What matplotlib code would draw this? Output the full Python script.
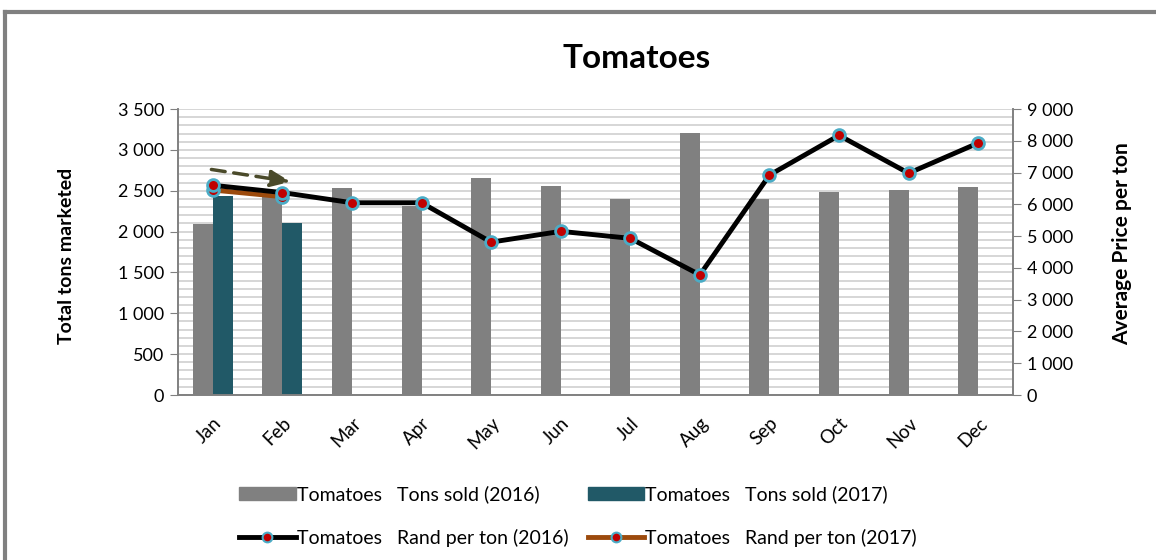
import matplotlib
matplotlib.use("Agg")
import matplotlib.pyplot as plt
from matplotlib.lines import Line2D
from matplotlib.ticker import FuncFormatter, MultipleLocator
import numpy as np

months = ["Jan", "Feb", "Mar", "Apr", "May", "Jun", "Jul", "Aug", "Sep", "Oct", "Nov", "Dec"]
tons_2016 = [2090, 2420, 2530, 2310, 2650, 2560, 2400, 3210, 2400, 2480, 2510, 2540]
tons_2017 = [2440, 2110]
rand_2016 = [6600, 6370, 6050, 6050, 4810, 5150, 4930, 3780, 6920, 8170, 6980, 7930]
rand_2017 = [6450, 6240]

lab_t16 = "Tomatoes   Tons sold (2016)"
lab_t17 = "Tomatoes   Tons sold (2017)"
lab_r16 = "Tomatoes   Rand per ton (2016)"
lab_r17 = "Tomatoes   Rand per ton (2017)"

plt.rcParams['font.family'] = ['Lato', 'DejaVu Sans']

W, H = 1156, 560
fig = plt.figure(figsize=(W/100, H/100), dpi=100)
ax = fig.add_axes([178/W, 1-395/H, (1013-178)/W, (395-109)/H])
ax2 = ax.twinx()

x = np.arange(len(months))
bw = 0.287
ax.bar(x - bw/2, tons_2016, width=bw, color="#808080", zorder=2)
ax.bar(x[:len(tons_2017)] + bw/2, tons_2017, width=bw, color="#215967", zorder=2)

ax.set_xlim(-0.5, 11.5)
ax.set_ylim(0, 3500)
ax.yaxis.set_major_locator(MultipleLocator(500))
ax.yaxis.set_minor_locator(MultipleLocator(100))
fmt = FuncFormatter(lambda v, p: f"{int(v):,}".replace(",", " "))
ax.yaxis.set_major_formatter(fmt)
ax.grid(axis="y", which="both", color="#d0d0d0", lw=1.2, zorder=0)
ax.set_axisbelow(True)
ax.tick_params(axis="y", which="minor", length=0)
ax.tick_params(axis="y", which="major", length=6, color="#808080", labelsize=13, pad=4)
ax.set_xticks(x)
ax.set_xticklabels(months, rotation=45, ha="right", rotation_mode="anchor", fontsize=13.5)
ax.tick_params(axis="x", length=0, pad=14)

ax2.set_ylim(0, 9000)
ax2.yaxis.set_major_locator(MultipleLocator(1000))
ax2.yaxis.set_major_formatter(fmt)
ax2.tick_params(axis="y", length=6, color="#808080", labelsize=13, pad=4)

for a in (ax, ax2):
    a.spines["top"].set_visible(False)
    for s in ("left", "right", "bottom"):
        a.spines[s].set_color("#808080")
        a.spines[s].set_linewidth(1.2)

mk = dict(marker="o", markersize=8.5, markerfacecolor="#c00000", markeredgecolor="#4bacc6", markeredgewidth=2)
ax2.plot(x[:len(rand_2017)], rand_2017, color="#9c4a0c", lw=3.5, zorder=3, **mk)
ax2.plot(x, rand_2016, color="#000000", lw=3.5, zorder=4, **mk)

ax.annotate("", xy=(1.12, 2610), xytext=(-0.02, 2760),
            arrowprops=dict(arrowstyle="-|>,head_length=1.2,head_width=0.5", color="#4a4a2a",
                            lw=2.5, linestyle=(0, (4, 2.5)), shrinkA=0, shrinkB=0), zorder=5)

ax.set_ylabel("Total tons marketed", fontsize=14, fontweight="bold")
ax.yaxis.set_label_coords(-0.123, 0.486)
ax2.set_ylabel("Average Price per ton", fontsize=15, fontweight="bold")
ax2.yaxis.set_label_coords(1.1186, 0.53)
fig.text(637/W, 1-58/H, "Tomatoes", ha="center", va="center", fontsize=24, fontweight="bold")

mk_leg = dict(marker="o", markersize=7, markerfacecolor="#c00000", markeredgecolor="#4bacc6", markeredgewidth=1.5)
h1 = plt.Rectangle((0, 0), 1, 1, color="#808080")
h2 = plt.Rectangle((0, 0), 1, 1, color="#215967")
h3 = Line2D([], [], color="#000000", lw=3.5, **mk_leg)
h4 = Line2D([], [], color="#9c4a0c", lw=3.5, **mk_leg)
fig.legend([h1, h3, h2, h4], [lab_t16, lab_r16, lab_t17, lab_r17], ncol=2,
           loc="center", bbox_to_anchor=(578/W, 1-516/H), frameon=False, fontsize=14,
           handlelength=2.9, handleheight=0.7, handletextpad=0.05, columnspacing=1.0,
           labelspacing=1.3)

fig.add_artist(Line2D([5/W, 1], [1-12/H, 1-12/H], color="#808080", lw=3, transform=fig.transFigure))
fig.add_artist(Line2D([5/W, 5/W], [0, 1-12/H], color="#808080", lw=3, transform=fig.transFigure))

fig.savefig("out.png", dpi=100)
